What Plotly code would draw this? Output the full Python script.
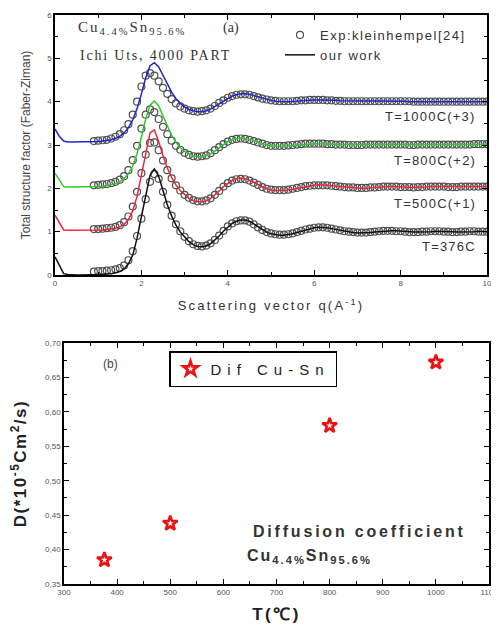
import plotly.graph_objects as go

# ---------------- Panel (a) data ----------------
q_line = [round(0.1 * i, 1) for i in range(101)]        # 0.0 .. 10.0
q_exp = [round(0.9 + 0.1 * i, 1) for i in range(92)]    # 0.9 .. 10.0

labels_a = ["T=376C", "T=500C(+1)", "T=800C(+2)", "T=1000C(+3)"]
offsets_a = [0, 1, 2, 3]
colors_a = ["#111111", "#e8283c", "#2ec82e", "#2323d0"]

line_376 = [0.42, 0.22, 0.03, 0.01, 0.00, 0.00, 0.00, 0.00, 0.01, 0.01,
            0.01, 0.02, 0.02, 0.03, 0.05, 0.08, 0.14, 0.26, 0.46, 0.85,
            1.35, 1.85, 2.30, 2.45, 2.28, 1.95, 1.62, 1.36, 1.15, 0.99,
            0.87, 0.77, 0.70, 0.66, 0.65, 0.67, 0.72, 0.80, 0.90, 1.01,
            1.11, 1.19, 1.24, 1.27, 1.27, 1.24, 1.18, 1.11, 1.04, 0.99,
            0.95, 0.93, 0.92, 0.92, 0.93, 0.95, 0.98, 1.01, 1.04, 1.07,
            1.09, 1.10, 1.10, 1.09, 1.07, 1.05, 1.03, 1.01, 0.99, 0.98,
            0.97, 0.97, 0.97, 0.98, 0.99, 1.00, 1.01, 1.02, 1.02, 1.02,
            1.01, 1.00, 0.99, 0.99, 0.99, 0.99, 1.00, 1.00, 1.01, 1.01,
            1.01, 1.00, 1.00, 0.99, 0.99, 1.00, 1.00, 1.00, 1.01, 1.00, 1.00]
exp_376 = [0.08,
           0.09, 0.09, 0.10, 0.11, 0.13, 0.16, 0.22, 0.34, 0.55, 0.90,
           1.30, 1.75, 2.15, 2.33, 2.22, 1.92, 1.62, 1.37, 1.17, 1.01,
           0.88, 0.78, 0.71, 0.67, 0.66, 0.68, 0.73, 0.81, 0.91, 1.02,
           1.12, 1.19, 1.24, 1.26, 1.26, 1.23, 1.17, 1.10, 1.04, 0.99,
           0.96, 0.94, 0.93, 0.93, 0.94, 0.96, 0.99, 1.02, 1.05, 1.07,
           1.09, 1.10, 1.10, 1.09, 1.07, 1.05, 1.03, 1.01, 1.00, 0.99,
           0.98, 0.98, 0.98, 0.99, 1.00, 1.01, 1.02, 1.02, 1.02, 1.01,
           1.01, 1.00, 0.99, 0.99, 0.99, 1.00, 1.00, 1.01, 1.01, 1.01,
           1.00, 1.00, 0.99, 0.99, 1.00, 1.00, 1.01, 1.01, 1.00, 1.00, 1.00]

line_500 = [0.38, 0.20, 0.04, 0.03, 0.03, 0.03, 0.03, 0.03, 0.03, 0.03,
            0.04, 0.04, 0.05, 0.06, 0.08, 0.11, 0.17, 0.28, 0.48, 0.82,
            1.30, 1.85, 2.28, 2.35, 2.08, 1.75, 1.47, 1.25, 1.08, 0.95,
            0.85, 0.77, 0.72, 0.69, 0.69, 0.71, 0.76, 0.84, 0.94, 1.04,
            1.12, 1.18, 1.22, 1.23, 1.22, 1.19, 1.14, 1.08, 1.03, 0.99,
            0.96, 0.95, 0.95, 0.95, 0.96, 0.98, 1.00, 1.02, 1.04, 1.06,
            1.07, 1.08, 1.08, 1.07, 1.06, 1.05, 1.04, 1.03, 1.02, 1.01,
            1.01, 1.00, 1.00, 1.01, 1.02, 1.03, 1.04, 1.04, 1.04, 1.04,
            1.03, 1.03, 1.02, 1.02, 1.02, 1.03, 1.03, 1.04, 1.04, 1.04,
            1.04, 1.03, 1.03, 1.03, 1.03, 1.04, 1.04, 1.04, 1.04, 1.04, 1.04]
exp_500 = [0.06,
           0.06, 0.07, 0.08, 0.09, 0.11, 0.15, 0.22, 0.35, 0.58, 0.92,
           1.35, 1.78, 2.05, 2.06, 1.88, 1.64, 1.42, 1.23, 1.07, 0.95,
           0.85, 0.78, 0.73, 0.70, 0.70, 0.72, 0.77, 0.85, 0.94, 1.04,
           1.12, 1.18, 1.21, 1.22, 1.21, 1.18, 1.13, 1.08, 1.03, 0.99,
           0.97, 0.96, 0.96, 0.96, 0.97, 0.99, 1.01, 1.03, 1.05, 1.06,
           1.07, 1.07, 1.07, 1.07, 1.06, 1.05, 1.04, 1.03, 1.02, 1.02,
           1.01, 1.01, 1.01, 1.02, 1.02, 1.03, 1.04, 1.04, 1.04, 1.04,
           1.03, 1.03, 1.03, 1.02, 1.03, 1.03, 1.04, 1.04, 1.04, 1.04,
           1.04, 1.03, 1.03, 1.03, 1.04, 1.04, 1.04, 1.04, 1.04, 1.04, 1.04]

line_800 = [0.35, 0.18, 0.04, 0.03, 0.03, 0.03, 0.03, 0.03, 0.03, 0.03,
            0.04, 0.05, 0.06, 0.08, 0.11, 0.15, 0.22, 0.34, 0.52, 0.80,
            1.18, 1.60, 1.92, 2.02, 1.90, 1.66, 1.42, 1.22, 1.06, 0.94,
            0.85, 0.79, 0.75, 0.73, 0.73, 0.75, 0.79, 0.86, 0.94, 1.02,
            1.08, 1.12, 1.15, 1.16, 1.15, 1.13, 1.10, 1.06, 1.03, 1.00,
            0.98, 0.97, 0.97, 0.97, 0.98, 0.99, 1.00, 1.01, 1.02, 1.03,
            1.03, 1.03, 1.03, 1.02, 1.02, 1.01, 1.01, 1.00, 1.00, 1.00,
            1.00, 1.00, 1.00, 1.01, 1.01, 1.01, 1.01, 1.01, 1.01, 1.01,
            1.01, 1.00, 1.00, 1.00, 1.00, 1.01, 1.01, 1.01, 1.01, 1.01,
            1.01, 1.01, 1.01, 1.01, 1.01, 1.01, 1.01, 1.01, 1.02, 1.02, 1.02]
exp_800 = [0.07,
           0.08, 0.09, 0.10, 0.12, 0.15, 0.20, 0.28, 0.42, 0.65, 0.98,
           1.38, 1.70, 1.82, 1.76, 1.60, 1.42, 1.25, 1.10, 0.98, 0.89,
           0.82, 0.77, 0.74, 0.73, 0.74, 0.76, 0.81, 0.88, 0.95, 1.02,
           1.08, 1.12, 1.14, 1.15, 1.14, 1.12, 1.09, 1.06, 1.03, 1.00,
           0.98, 0.98, 0.98, 0.98, 0.99, 1.00, 1.01, 1.02, 1.03, 1.03,
           1.03, 1.03, 1.03, 1.02, 1.02, 1.01, 1.01, 1.01, 1.00, 1.00,
           1.00, 1.00, 1.01, 1.01, 1.01, 1.01, 1.01, 1.01, 1.01, 1.01,
           1.01, 1.01, 1.00, 1.00, 1.01, 1.01, 1.01, 1.01, 1.01, 1.01,
           1.01, 1.01, 1.01, 1.01, 1.01, 1.01, 1.01, 1.02, 1.02, 1.02, 1.02]

line_1000 = [0.37, 0.20, 0.09, 0.07, 0.07, 0.07, 0.07, 0.07, 0.07, 0.07,
             0.08, 0.09, 0.10, 0.12, 0.15, 0.20, 0.28, 0.40, 0.58, 0.84,
             1.18, 1.55, 1.83, 1.90, 1.80, 1.60, 1.40, 1.22, 1.07, 0.96,
             0.88, 0.82, 0.79, 0.77, 0.77, 0.79, 0.83, 0.89, 0.96, 1.03,
             1.09, 1.13, 1.16, 1.18, 1.18, 1.17, 1.14, 1.11, 1.08, 1.05,
             1.03, 1.01, 1.00, 1.00, 1.00, 1.00, 1.01, 1.02, 1.03, 1.04,
             1.04, 1.04, 1.04, 1.04, 1.03, 1.03, 1.02, 1.02, 1.01, 1.01,
             1.01, 1.01, 1.01, 1.01, 1.01, 1.01, 1.01, 1.01, 1.01, 1.01,
             1.01, 1.01, 1.00, 1.00, 1.00, 1.00, 1.00, 1.00, 1.00, 1.00,
             1.00, 1.00, 1.00, 1.00, 1.00, 1.00, 1.00, 1.00, 1.00, 1.00, 1.00]
exp_1000 = [0.09,
            0.10, 0.11, 0.12, 0.15, 0.19, 0.25, 0.34, 0.48, 0.70, 1.00,
            1.35, 1.60, 1.66, 1.60, 1.47, 1.32, 1.18, 1.06, 0.96, 0.89,
            0.84, 0.80, 0.78, 0.77, 0.78, 0.80, 0.84, 0.90, 0.97, 1.03,
            1.09, 1.13, 1.16, 1.17, 1.17, 1.16, 1.13, 1.10, 1.07, 1.05,
            1.03, 1.02, 1.01, 1.01, 1.01, 1.01, 1.02, 1.03, 1.03, 1.04,
            1.04, 1.04, 1.04, 1.03, 1.03, 1.02, 1.02, 1.01, 1.01, 1.01,
            1.01, 1.01, 1.01, 1.01, 1.01, 1.01, 1.01, 1.01, 1.01, 1.01,
            1.01, 1.01, 1.01, 1.00, 1.00, 1.00, 1.00, 1.00, 1.00, 1.00,
            1.00, 1.00, 1.00, 1.00, 1.00, 1.00, 1.00, 1.00, 1.00, 1.00, 1.00]

lines_a = [line_376, line_500, line_800, line_1000]
exps_a = [exp_376, exp_500, exp_800, exp_1000]

# ---------------- Panel (b) data ----------------
temps_b = [376, 500, 800, 1000]
diff_b = [0.385, 0.438, 0.580, 0.672]
yticks_b = [0.35, 0.40, 0.45, 0.50, 0.55, 0.60, 0.65, 0.70]
yticktext_b = ["0,35", "0,40", "0,45", "0,50", "0,55", "0,60", "0,65", "0,70"]

# page body has an 8px margin: the figure starts at (8, 8) of the window
OFF = 8
W, H = 499 - OFF, 627 - OFF
def px(x):
    return (x - OFF) / W
def py(y):
    return 1 - (y - OFF) / H

def spaced(t, s):
    return '<span style="letter-spacing:%spx">%s</span>' % (s, t)

fig = go.Figure()

for i in range(4):
    yv = [v + offsets_a[i] for v in exps_a[i]]
    fig.add_trace(go.Scatter(
        x=q_exp, y=yv, mode="markers", xaxis="x", yaxis="y",
        marker=dict(symbol="circle-open", size=7, color="#505050", line=dict(width=1.2)),
        name=spaced("Exp:kleinhempel[24]", 1.5), showlegend=(i == 0), legend="legend",
        hoverinfo="skip"))
for i in range(4):
    yv = [v + offsets_a[i] for v in lines_a[i]]
    fig.add_trace(go.Scatter(
        x=q_line, y=yv, mode="lines", xaxis="x", yaxis="y",
        line=dict(color=colors_a[i], width=1.5),
        name=spaced("our work", 1.5), showlegend=(i == 0), legend="legend",
        hoverinfo="skip"))

fig.add_trace(go.Scatter(
    x=temps_b, y=diff_b, mode="markers", xaxis="x2", yaxis="y2",
    marker=dict(symbol="star-open", size=11, color="#ee1111", line=dict(width=2.6)),
    name=spaced("Dif Cu-Sn", 6), legend="legend2"))

tickfont = dict(family="Liberation Sans, Arial", size=8, color="#555555")
common = dict(showline=True, linecolor="black", linewidth=1.5, mirror="ticks",
              showgrid=False, zeroline=False, tickfont=tickfont, automargin=False,
              ticks="inside", ticklen=5, tickcolor="black")

fig.update_layout(
    width=W, height=H, margin=dict(l=0, r=0, t=0, b=0),
    paper_bgcolor="white", plot_bgcolor="white",
    font=dict(family="Liberation Sans, Arial", color="#333333"),
    xaxis=dict(domain=[px(55), px(487)], range=[0, 10], anchor="y",
               tickvals=[0, 2, 4, 6, 8, 10],
               minor=dict(tickvals=[1, 3, 5, 7, 9], ticks="inside", ticklen=3),
               title=dict(text=spaced("Scattering vector q(A<sup>-1</sup>)", 2.2),
                          font=dict(size=13, color="#333333"), standoff=14),
               **common),
    yaxis=dict(domain=[py(275), py(15)], range=[0, 6], anchor="x",
               tickvals=[0, 1, 2, 3, 4, 5, 6],
               minor=dict(tickvals=[0.5, 1.5, 2.5, 3.5, 4.5, 5.5], ticks="inside", ticklen=3),
               title=dict(text="Total structure factor (Faber-Ziman)",
                          font=dict(size=12, color="#444444"), standoff=14),
               **common),
    xaxis2=dict(domain=[px(64), px(489)], range=[300, 1100], anchor="y2",
                tickvals=[300, 400, 500, 600, 700, 800, 900, 1000, 1100],
                minor=dict(tickvals=[350, 450, 550, 650, 750, 850, 950, 1050], ticks="inside", ticklen=3),
                title=dict(text="<b>" + spaced("T(℃)", 2.5) + "</b>",
                           font=dict(size=17, color="#222222"), standoff=12),
                **common),
    yaxis2=dict(domain=[py(584), py(343)], range=[0.35, 0.70], anchor="x2",
                tickvals=yticks_b, ticktext=yticktext_b,
                minor=dict(tickvals=[0.375, 0.425, 0.475, 0.525, 0.575, 0.625, 0.675], ticks="inside", ticklen=3),
                title=dict(text="<b>" + spaced("D(*10<sup>-5</sup>Cm<sup>2</sup>/s)", 1.5) + "</b>",
                           font=dict(size=17, color="#222222"), standoff=18),
                **common),
    legend=dict(x=px(280), y=py(20), xanchor="left", yanchor="top",
                bgcolor="rgba(0,0,0,0)", borderwidth=0, tracegroupgap=0,
                font=dict(size=13, color="#333333"), itemwidth=30),
    legend2=dict(x=px(169), y=py(351), xanchor="left", yanchor="top",
                 bgcolor="white", bordercolor="black", borderwidth=1.5,
                 font=dict(size=15, color="#222222"), itemwidth=30),
)

ann = []
for i in range(4):
    ann.append(dict(x=9.8, y=offsets_a[i] + 0.65, xref="x", yref="y", text=spaced(labels_a[i], 1.2),
                    showarrow=False, xanchor="right", yanchor="middle",
                    font=dict(size=13, color="#333333")))
serif = "Liberation Serif, Times New Roman"
ann += [
    dict(x=px(76), y=py(28), xref="paper", yref="paper", xanchor="left", yanchor="middle",
         text=spaced("Cu<sub>4.4%</sub>Sn<sub>95.6%</sub>", 2.0), showarrow=False,
         font=dict(family=serif, size=15, color="#333333")),
    dict(x=px(78), y=py(55), xref="paper", yref="paper", xanchor="left", yanchor="middle",
         text=spaced("Ichi Uts, 4000 PART", 1.8), showarrow=False,
         font=dict(family=serif, size=14, color="#333333")),
    dict(x=px(231), y=py(28), xref="paper", yref="paper", xanchor="center", yanchor="middle",
         text="(a)", showarrow=False,
         font=dict(family=serif, size=14, color="#333333")),
    dict(x=px(110), y=py(364), xref="paper", yref="paper", xanchor="center", yanchor="middle",
         text="(b)", showarrow=False, font=dict(size=12, color="#444444")),
    dict(x=px(468), y=py(531), xref="paper", yref="paper", xanchor="right", yanchor="middle",
         text="<b>" + spaced("Diffusion coefficient", 2.8) + "</b>", showarrow=False,
         font=dict(size=16, color="#333333")),
    dict(x=px(245), y=py(556), xref="paper", yref="paper", xanchor="left", yanchor="middle",
         text="<b>" + spaced("Cu<sub>4.4%</sub>Sn<sub>95.6%</sub>", 2) + "</b>", showarrow=False,
         font=dict(size=16, color="#333333")),
]
fig.update_layout(annotations=ann)

fig.write_html("out.html")
